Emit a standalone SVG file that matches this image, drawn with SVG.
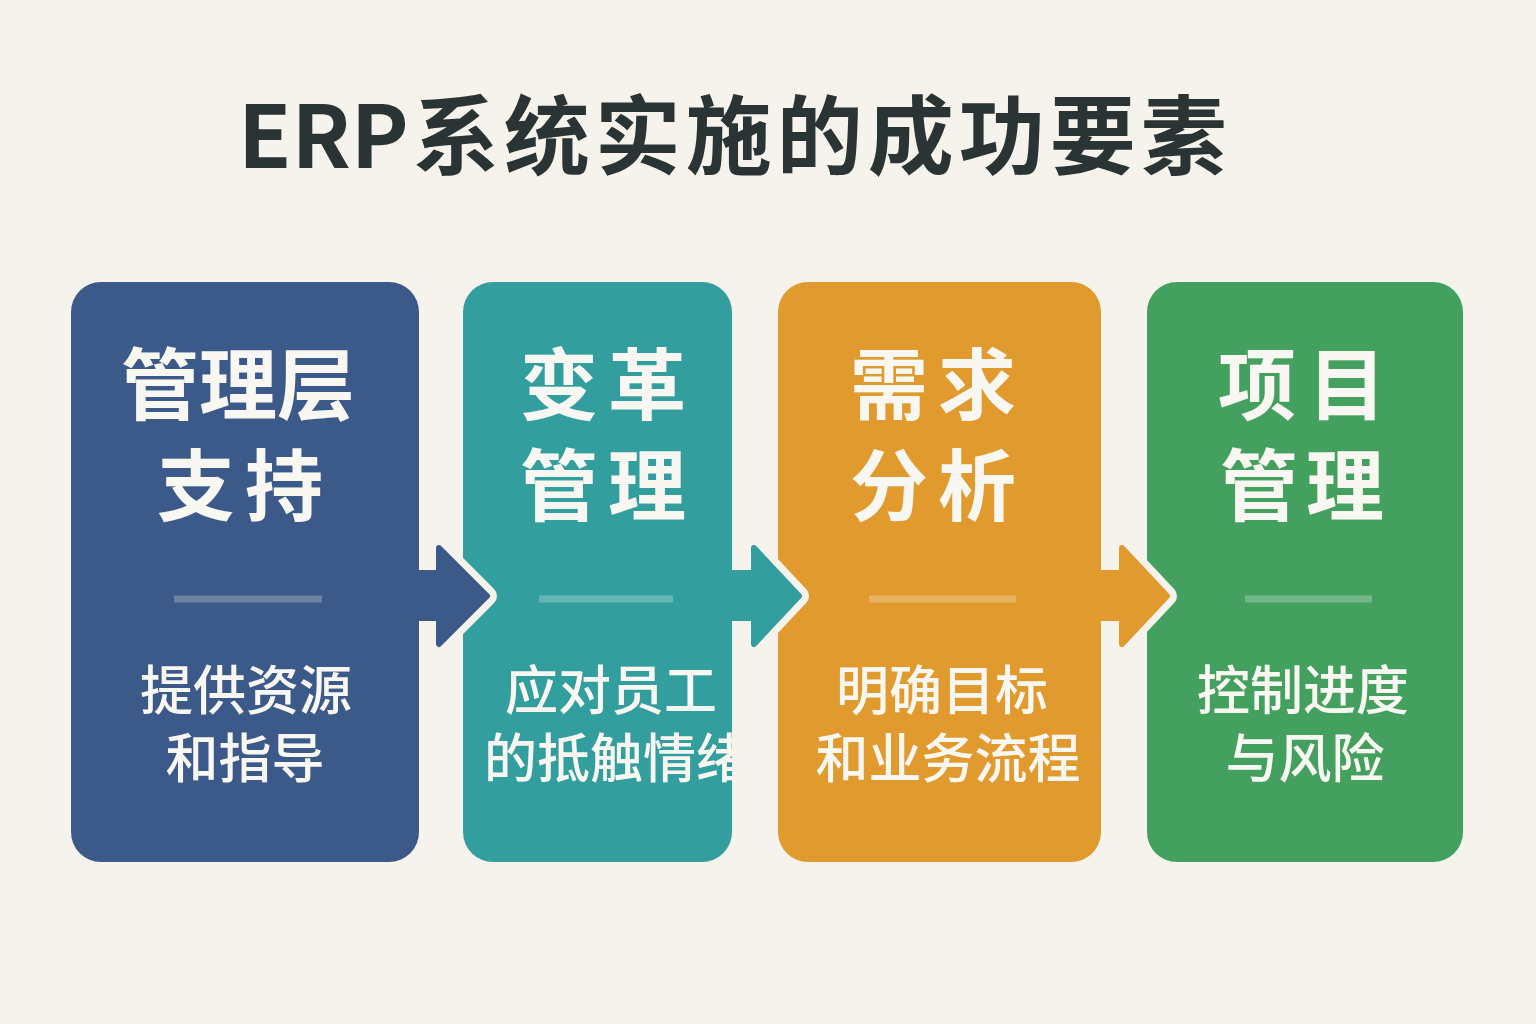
<svg xmlns="http://www.w3.org/2000/svg" width="1536" height="1024" viewBox="0 0 1536 1024">
<defs>
<style>
.bg{fill:#f5f3ec}
.title{font-family:"Noto Sans CJK SC","Noto Sans",sans-serif;font-weight:700;fill:#2b3435}
.head{font-family:"Noto Sans CJK SC",sans-serif;font-weight:700;font-size:78px;fill:#f8f7f2;text-anchor:middle}
.sub{font-family:"Noto Sans CJK SC",sans-serif;font-weight:500;font-size:53px;fill:#f8f7f2;text-anchor:middle}
.div{stroke:#ffffff;stroke-opacity:0.25;stroke-width:7}
.outline{fill:#f5f3ec;stroke:#f5f3ec;stroke-width:20;stroke-linejoin:round}
.arrow{stroke-width:6;stroke-linejoin:round}
</style>
<clipPath id="clip2"><rect x="463" y="282" width="269" height="580" rx="30"/></clipPath>
</defs>
<rect class="bg" x="0" y="0" width="1536" height="1024"/>
<text class="title" x="238" y="168"><tspan font-size="87">ERP</tspan><tspan font-size="86" dx="4" letter-spacing="5">系统实施的成功要素</tspan></text>

<g id="node1">
<rect x="71" y="282" width="348" height="580" rx="30" fill="#3c5a89"/>
<text class="head" x="238" y="414">管理层</text>
<text class="head" x="245" y="515" letter-spacing="10">支持</text>
<line class="div" x1="174" y1="599" x2="322" y2="599"/>
<text class="sub" x="246" y="710">提供资源</text>
<text class="sub" x="245" y="778">和指导</text>
</g>

<g id="node2">
<rect x="463" y="282" width="269" height="580" rx="30" fill="#339e9e"/>
<text class="head" x="608" y="414" letter-spacing="10">变革</text>
<text class="head" x="608" y="515" letter-spacing="10">管理</text>
<line class="div" x1="539" y1="599" x2="673" y2="599"/>
<text class="sub" x="611" y="710">应对员工</text>
<g clip-path="url(#clip2)"><text class="sub" x="484" y="778" style="text-anchor:start">的抵触情绪</text></g>
</g>

<g id="node3">
<rect x="778" y="282" width="323" height="580" rx="30" fill="#e09a2d"/>
<text class="head" x="938" y="414" letter-spacing="10">需求</text>
<text class="head" x="938" y="515" letter-spacing="10">分析</text>
<line class="div" x1="869" y1="599" x2="1016" y2="599"/>
<text class="sub" x="942" y="710">明确目标</text>
<text class="sub" x="948" y="778">和业务流程</text>
</g>

<g id="node4">
<rect x="1147" y="282" width="316" height="580" rx="30" fill="#44a05f"/>
<text class="head" x="1308" y="414" letter-spacing="12">项目</text>
<text class="head" x="1306" y="515" letter-spacing="8">管理</text>
<line class="div" x1="1245" y1="599" x2="1372" y2="599"/>
<text class="sub" x="1303" y="710">控制进度</text>
<text class="sub" x="1305" y="778">与风险</text>
</g>

<g id="connectors">
<path class="outline" d="M440 549 L487 596 L440 643 Z"/>
<path class="arrow" fill="#3c5a89" stroke="#3c5a89" d="M410 573 L439 573 L439 548 L487 596 L439 644 L439 618 L410 618 Z"/>
<path class="outline" d="M755 549 L799 596 L755 643 Z"/>
<path class="arrow" fill="#339e9e" stroke="#339e9e" d="M725 573 L754 573 L754 548 L799 596 L754 644 L754 618 L725 618 Z"/>
<path class="outline" d="M1123 549 L1167 596 L1123 643 Z"/>
<path class="arrow" fill="#e09a2d" stroke="#e09a2d" d="M1094 573 L1122 573 L1122 548 L1167 596 L1122 644 L1122 618 L1094 618 Z"/>
</g>
</svg>
